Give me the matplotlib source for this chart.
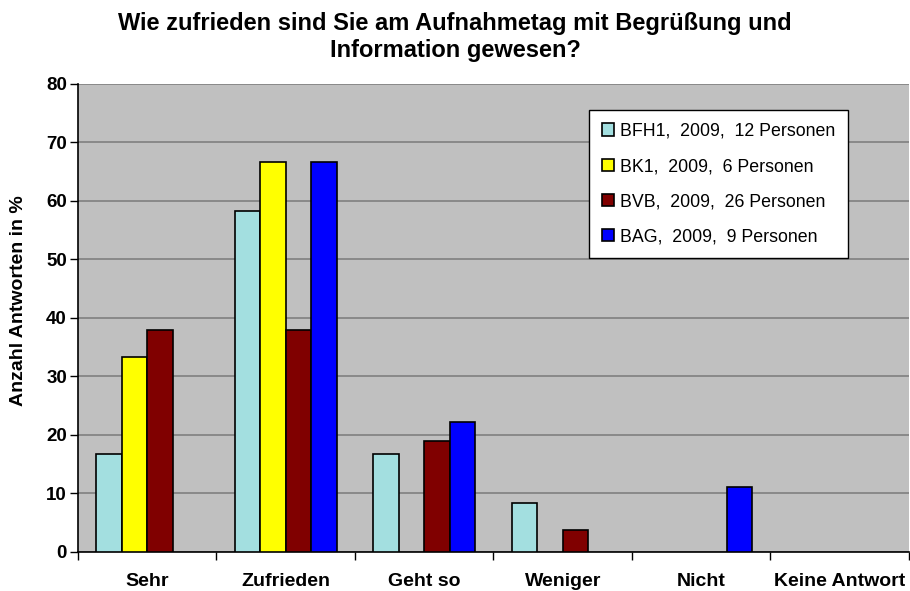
import numpy as np
import matplotlib.pyplot as plt

plt.rcParams['font.family'] = ['Liberation Sans', 'DejaVu Sans']

categories = ['Sehr', 'Zufrieden', 'Geht so', 'Weniger', 'Nicht', 'Keine Antwort']
series_names = ['BFH1,  2009,  12 Personen', 'BK1,  2009,  6 Personen',
                'BVB,  2009,  26 Personen', 'BAG,  2009,  9 Personen']
bfh1 = [16.7, 58.3, 16.7, 8.3, 0, 0]
bk1 = [33.3, 66.7, 0, 0, 0, 0]
bvb = [38.0, 38.0, 19.0, 3.8, 0, 0]
bag = [0, 66.7, 22.2, 0, 11.1, 0]
colors = ['#A3DFE0', '#FFFF00', '#800000', '#0000FF']

fig = plt.figure(figsize=(9.1, 5.91), dpi=100)
ax = fig.add_axes([0.0857, 0.066, 0.9132, 0.792])
ax.set_facecolor('#C0C0C0')

x = np.arange(len(categories))
w = 0.184
for i, (vals, name, c) in enumerate(zip([bfh1, bk1, bvb, bag], series_names, colors)):
    v = np.array(vals, dtype=float)
    # zero bars are not drawn
    mask = v > 0
    ax.bar(x[mask] + (i - 1.5) * w, v[mask], w, color=c, edgecolor='black',
           linewidth=1.2, label=name, zorder=3)

ax.set_xlim(-0.5, 5.5)
ax.set_ylim(0, 80)
ax.set_yticks(range(0, 81, 10))
ax.yaxis.grid(True, color='#808080', linewidth=1.2, zorder=0)
ax.set_axisbelow(True)

ax.set_xticks(np.arange(-0.5, 6, 1))
ax.set_xticklabels([])
ax.set_xticks(x, minor=True)
ax.set_xticklabels(categories, minor=True, fontsize=14, fontweight='bold')
ax.tick_params(axis='x', which='minor', length=0, pad=15)
ax.tick_params(axis='x', which='major', length=6, width=1, direction='out')
ax.tick_params(axis='y', length=6, width=1, direction='out', labelsize=13.5, pad=2)
for lab in ax.get_yticklabels():
    lab.set_fontweight('bold')

for s in ['top', 'right']:
    ax.spines[s].set_visible(False)
ax.spines['left'].set_linewidth(1.2)
ax.spines['bottom'].set_linewidth(1.2)

ax.set_ylabel('Anzahl Antworten in %', fontsize=14, fontweight='bold')
ax.yaxis.set_label_coords(-0.061, 0.538)

fig.text(0.5, 0.98, 'Wie zufrieden sind Sie am Aufnahmetag mit Begrüßung und\nInformation gewesen?',
         ha='center', va='top', fontsize=17, fontweight='bold', linespacing=1.25)

leg = ax.legend(loc='upper left', bbox_to_anchor=(0.615, 0.944), fontsize=12.8,
                frameon=True, fancybox=False, edgecolor='black', framealpha=1,
                handlelength=0.7, handleheight=0.7, handletextpad=0.3,
                labelspacing=1.02, borderpad=0.72, borderaxespad=0)
leg.get_frame().set_linewidth(1.0)

fig.savefig('out.png', dpi=100)
